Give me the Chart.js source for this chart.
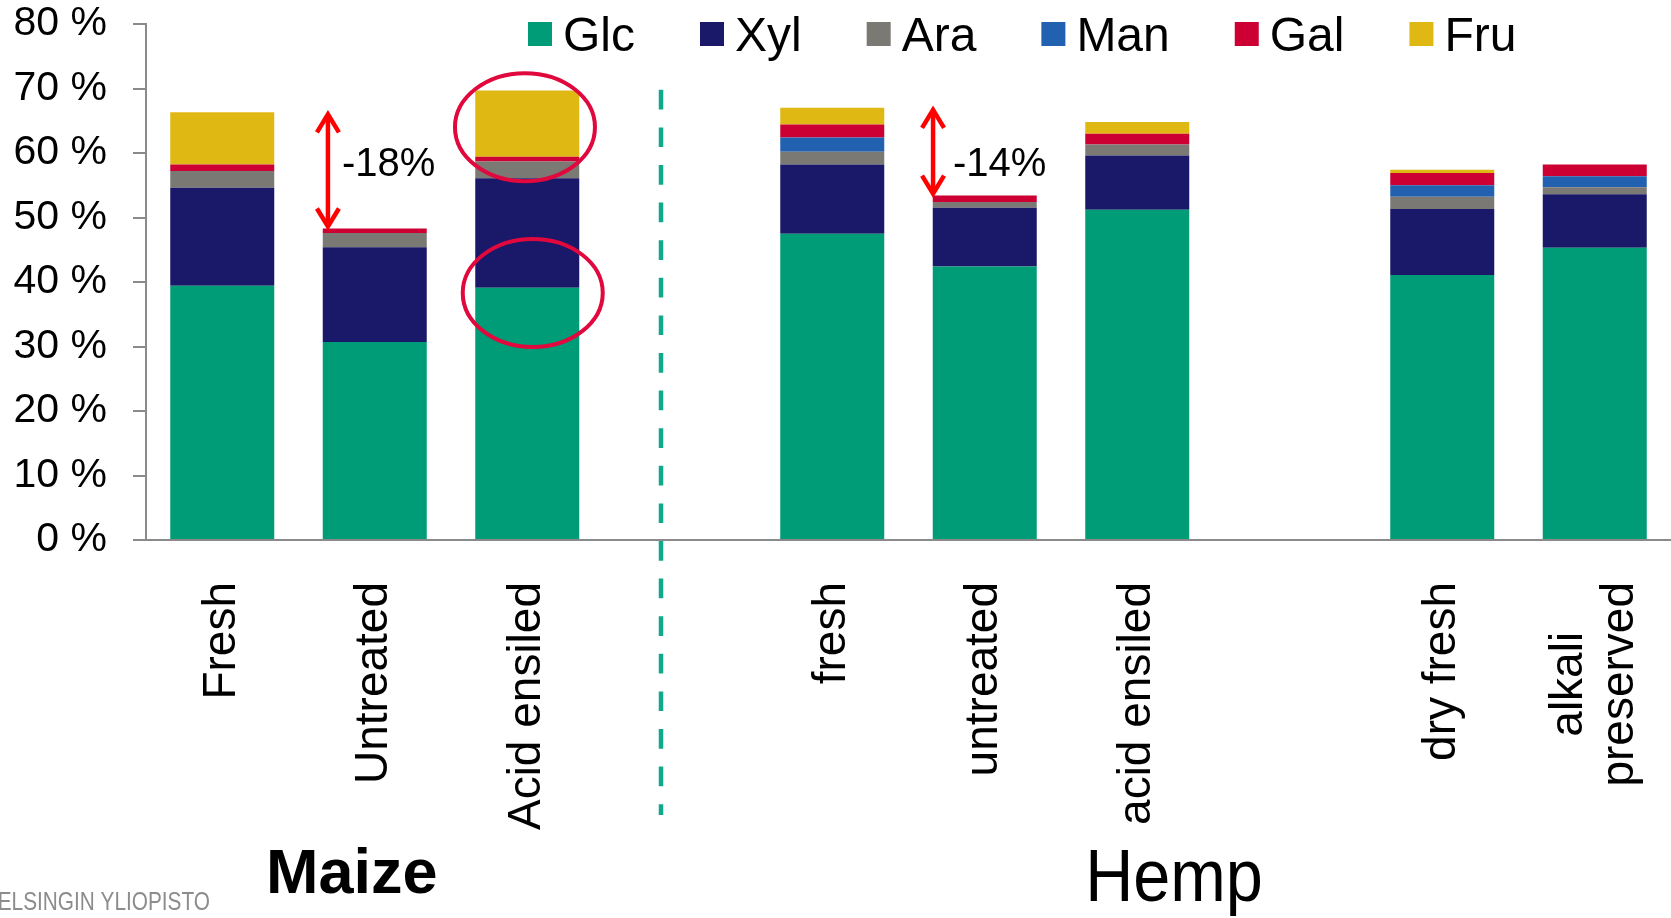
<!DOCTYPE html>
<html>
<head>
<meta charset="utf-8">
<script src="https://cdn.jsdelivr.net/npm/chart.js@4.4.1/dist/chart.umd.min.js"></script>
<style>
  html, body { margin: 0; padding: 0; background: #ffffff; }
  #wrap { width: 1671px; height: 918px; position: relative; }
</style>
</head>
<body>
<div id="wrap"><canvas id="c" width="1671" height="918"></canvas></div>
<script>
// ---------- data ----------
const categories = ['Fresh', 'Untreated', 'Acid ensiled', '', 'fresh', 'untreated', 'acid ensiled', '', 'dry fresh', ['alkali', 'preserved']];
const seriesNames = ['Glc', 'Xyl', 'Ara', 'Man', 'Gal', 'Fru'];
const glc = [39.4, 30.7, 39.1, null, 47.5, 42.4, 51.2, null, 41.1, 45.3];
const xyl = [15.2, 14.7, 17.0, null, 10.7, 9.1, 8.4, null, 10.2, 8.3];
const ara = [2.6, 2.2, 2.6, null, 2.0, 0.9, 1.7, null, 1.9, 1.1];
const man = [0, 0, 0, null, 2.2, 0, 0, null, 1.8, 1.7];
const gal = [1.0, 0.7, 0.7, null, 2.0, 1.0, 1.7, null, 1.9, 1.8];
const fru = [8.1, 0, 10.3, null, 2.6, 0, 1.8, null, 0.5, 0];
const yTicks = [0, 10, 20, 30, 40, 50, 60, 70, 80];
const groupNames = ['Maize', 'Hemp'];
const changeLabels = ['-18%', '-14%'];
const logoText = 'HELSINGIN YLIOPISTO';

const seriesValues = [glc, xyl, ara, man, gal, fru];
const colors = ['#009b77', '#1a1868', '#7b7974', '#2161b0', '#cc0033', '#e0b814'];
const FONT = "'Liberation Sans', Arial, sans-serif";
const AXIS_GREY = '#8a8a8a';

function total(i) {
  return seriesValues.reduce((s, arr) => s + (arr[i] || 0), 0);
}

const decorPlugin = {
  id: 'decor',
  afterDatasetsDraw(chart) {
    const ctx = chart.ctx;
    const x = chart.scales.x, y = chart.scales.y;
    ctx.save();
    // dashed separator between Maize and Hemp
    ctx.strokeStyle = '#10a98b';
    ctx.lineWidth = 4.5;
    ctx.setLineDash([19.7, 17.9]);
    const sx = x.getPixelForValue(2.877);
    ctx.beginPath();
    ctx.moveTo(sx, y.getPixelForValue(69.8));
    ctx.lineTo(sx, chart.chartArea.bottom + 275);
    ctx.stroke();
    ctx.setLineDash([]);

    // ellipses around acid ensiled maize segments
    ctx.strokeStyle = '#e0083c';
    ctx.lineWidth = 4;
    [[1.985, 64.0], [2.036, 38.3]].forEach(([xv, yv]) => {
      ctx.beginPath();
      ctx.ellipse(x.getPixelForValue(xv), y.getPixelForValue(yv), 70, 54, 0, 0, Math.PI * 2);
      ctx.stroke();
    });

    // double-headed arrows
    const arrows = [
      { xv: 0.693, from: 0, to: 1, label: changeLabels[0], dx: 14 },
      { xv: 4.661, from: 4, to: 5, label: changeLabels[1], dx: 20 }
    ];
    arrows.forEach(a => {
      const ax = x.getPixelForValue(a.xv);
      const yt = y.getPixelForValue(total(a.from));
      const yb = y.getPixelForValue(total(a.to));
      ctx.strokeStyle = '#ff0000';
      ctx.lineWidth = 4.5;
      ctx.lineJoin = 'miter';
      ctx.beginPath();
      ctx.moveTo(ax, yt + 3);
      ctx.lineTo(ax, yb - 3);
      ctx.stroke();
      ctx.beginPath();
      ctx.moveTo(ax - 11, yt + 20); ctx.lineTo(ax, yt + 2); ctx.lineTo(ax + 11, yt + 20);
      ctx.stroke();
      ctx.beginPath();
      ctx.moveTo(ax - 11, yb - 20); ctx.lineTo(ax, yb - 2); ctx.lineTo(ax + 11, yb - 20);
      ctx.stroke();
      ctx.fillStyle = '#000';
      ctx.font = '40px ' + FONT;
      ctx.textAlign = 'left';
      ctx.textBaseline = 'middle';
      ctx.fillText(a.label, ax + a.dx, y.getPixelForValue(58.1));
    });
    ctx.restore();
  },
  afterDraw(chart) {
    const ctx = chart.ctx;
    const x = chart.scales.x;
    const area = chart.chartArea;
    ctx.save();
    // legend
    ctx.font = '48px ' + FONT;
    ctx.textAlign = 'left';
    ctx.textBaseline = 'alphabetic';
    let lx = 528;
    chart.data.datasets.forEach(ds => {
      ctx.fillStyle = ds.backgroundColor;
      ctx.fillRect(lx, 22, 24, 24);
      ctx.fillStyle = '#000';
      ctx.fillText(ds.label, lx + 35, 51);
      lx += 35 + ctx.measureText(ds.label).width + 65;
    });

    // x category labels, rotated
    ctx.font = '46px ' + FONT;
    ctx.fillStyle = '#000';
    const top = area.bottom + 42;
    categories.forEach((c, i) => {
      const lines = Array.isArray(c) ? c : [c];
      if (!lines[0]) return;
      const maxW = Math.max(...lines.map(l => ctx.measureText(l).width));
      ctx.save();
      ctx.translate(x.getPixelForValue(i), top + maxW / 2);
      ctx.rotate(-Math.PI / 2);
      ctx.textAlign = 'center';
      ctx.textBaseline = 'middle';
      lines.forEach((l, k) => {
        ctx.fillText(l, 0, (k - (lines.length - 1) / 2) * 51);
      });
      ctx.restore();
    });

    // group names
    ctx.textAlign = 'center';
    ctx.textBaseline = 'alphabetic';
    ctx.font = 'bold 63px ' + FONT;
    ctx.fillText(groupNames[0], x.getPixelForValue(0.849), 893);
    ctx.save();
    ctx.translate(x.getPixelForValue(6.241), 901);
    ctx.scale(0.9, 1);
    ctx.font = '74px ' + FONT;
    ctx.fillText(groupNames[1], 0, 0);
    ctx.restore();

    // logo text (cut at left edge)
    ctx.save();
    ctx.translate(210, 910);
    ctx.scale(0.8, 1);
    ctx.font = '26px ' + FONT;
    ctx.fillStyle = '#8c8c8c';
    ctx.textAlign = 'right';
    ctx.fillText(logoText, 0, 0);
    ctx.restore();
    ctx.restore();
  }
};

new Chart(document.getElementById('c'), {
  type: 'bar',
  data: {
    labels: categories,
    datasets: seriesNames.map((name, k) => ({
      label: name,
      data: seriesValues[k],
      backgroundColor: colors[k],
      borderWidth: 0,
      barPercentage: 0.682,
      categoryPercentage: 1.0
    }))
  },
  options: {
    responsive: false,
    animation: false,
    devicePixelRatio: 1,
    layout: { padding: { left: 0, right: 0, top: 0, bottom: 0 } },
    plugins: {
      legend: { display: false },
      tooltip: { enabled: false },
      title: { display: false }
    },
    scales: {
      x: {
        stacked: true,
        offset: true,
        grid: { display: false },
        border: { display: true, color: AXIS_GREY, width: 2 },
        ticks: { display: false },
        afterFit(scale) { scale.height = 918 - 540; }
      },
      y: {
        stacked: true,
        min: 0,
        max: 80,
        afterBuildTicks(scale) { scale.ticks = yTicks.map(v => ({ value: v })); },
        grid: { display: true, drawOnChartArea: false, drawTicks: true, tickLength: 13, color: AXIS_GREY, lineWidth: 2 },
        border: { display: true, color: AXIS_GREY, width: 2 },
        ticks: {
          padding: 26,
          color: '#000',
          font: { family: FONT, size: 41 },
          callback: v => v + ' %'
        },
        afterFit(scale) {
          scale.width = 146;
          scale.paddingTop = 24;
          scale.paddingBottom = 0;
        }
      }
    }
  },
  plugins: [decorPlugin]
});
</script>
</body>
</html>
